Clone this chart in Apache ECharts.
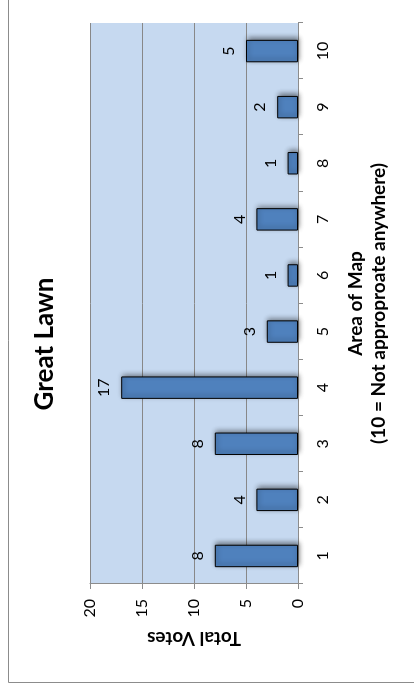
<!DOCTYPE html>
<html>
<head>
<meta charset="utf-8">
<script src="https://cdn.jsdelivr.net/npm/echarts@6/dist/echarts.min.js"></script>
<style>
  html, body { margin: 0; padding: 0; background: #ffffff; overflow: hidden; }
  #wrap { position: absolute; left: 0; top: 0; width: 414px; height: 686px; overflow: hidden; }
  #chart {
    position: absolute; left: 0; top: 0; width: 686px; height: 414px;
    transform-origin: 0 0; transform: translateY(686px) rotate(-90deg);
  }
</style>
</head>
<body>
<div id="wrap"><div id="chart"></div></div>
<script>
const chartTitle = 'Great Lawn';
const categories = ['1', '2', '3', '4', '5', '6', '7', '8', '9', '10'];
const totalVotes = [8, 4, 8, 17, 3, 1, 4, 1, 2, 5];
const valueTicks = { min: 0, max: 20, interval: 5 };
const xAxisName = 'Area of Map\n(10 = Not approproate anywhere)';
const yAxisName = 'Total Votes';

const FONT = 'Lato, "Open Sans", sans-serif';
const chart = echarts.init(document.getElementById('chart'), null, { renderer: 'canvas' });

chart.setOption({
  backgroundColor: '#ffffff',
  animation: false,
  graphic: [
    {
      type: 'rect', silent: true, z: -10,
      shape: { x: 3.5, y: 8.5, width: 900, height: 600 },
      style: { fill: 'none', stroke: '#8c8c8c', lineWidth: 1 }
    },
    {
      type: 'text', silent: true,
      style: {
        text: chartTitle, x: 342, y: 45, textAlign: 'center', textVerticalAlign: 'middle',
        fill: '#000000', font: 'bold 26px ' + FONT
      }
    }
  ],
  grid: {
    left: 102, right: 23, top: 90, bottom: 116,
    show: true, backgroundColor: '#c6d9f0', borderWidth: 0
  },
  xAxis: {
    type: 'category',
    data: categories,
    boundaryGap: true,
    axisLine: { show: true, lineStyle: { color: '#8c8c8c', width: 1 } },
    axisTick: { show: true, length: 5, lineStyle: { color: '#8c8c8c' } },
    axisLabel: { color: '#000', fontFamily: FONT, fontSize: 16, margin: 17 },
    name: xAxisName,
    nameLocation: 'middle',
    nameGap: 46,
    nameTextStyle: { color: '#000', fontFamily: FONT, fontSize: 19, fontWeight: 'bold', lineHeight: 23 }
  },
  yAxis: {
    type: 'value',
    min: valueTicks.min, max: valueTicks.max, interval: valueTicks.interval,
    axisLine: { show: true, lineStyle: { color: '#8c8c8c', width: 1 } },
    axisTick: { show: true, length: 5, lineStyle: { color: '#8c8c8c' } },
    axisLabel: { color: '#000', fontFamily: FONT, fontSize: 16, margin: 15 },
    splitLine: { show: true, lineStyle: { color: '#888888', width: 1 } },
    name: yAxisName,
    nameLocation: 'middle',
    nameGap: 44,
    nameTextStyle: { color: '#000', fontFamily: FONT, fontSize: 19, fontWeight: 'bold' }
  },
  series: [{
    type: 'bar',
    data: totalVotes,
    barWidth: '40%',
    itemStyle: {
      color: '#4f81bd', borderColor: '#000000', borderWidth: 1,
      shadowColor: 'rgba(0,0,0,0.45)', shadowBlur: 5, shadowOffsetX: 2, shadowOffsetY: 1
    },
    label: {
      show: true, position: 'top', distance: 9,
      color: '#000', fontFamily: FONT, fontSize: 16
    }
  }]
});
</script>
</body>
</html>
